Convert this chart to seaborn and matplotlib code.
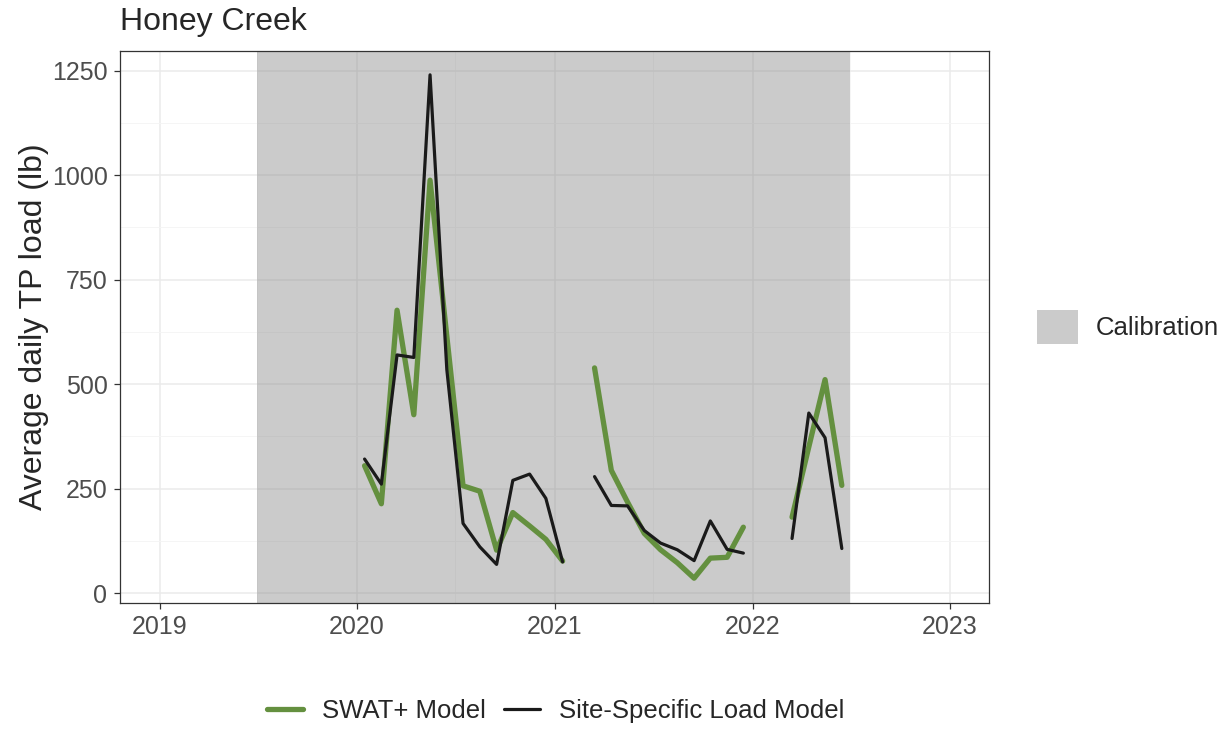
import pandas as pd
import numpy as np
import matplotlib
matplotlib.use("Agg")
import matplotlib.pyplot as plt
import matplotlib.dates as mdates
from matplotlib.lines import Line2D
from matplotlib.patches import Patch
import seaborn as sns

# monthly values (plotted mid-month), three separate runs of data
months = ["2020-01", "2020-02", "2020-03", "2020-04", "2020-05", "2020-06", "2020-07",
          "2020-08", "2020-09", "2020-10", "2020-11", "2020-12", "2021-01",
          "2021-03", "2021-04", "2021-05", "2021-06", "2021-07", "2021-08",
          "2021-09", "2021-10", "2021-11", "2021-12",
          "2022-03", "2022-04", "2022-05", "2022-06"]
segment = [1] * 13 + [2] * 10 + [3] * 4

swat = [305, 214, 677, 427, 988, 615, 257, 244, 103, 193, 161, 129, 77,
        539, 294, 218, 143, 104, 73, 36, 84, 86, 158,
        182, 350, 511, 258]
site_specific = [321, 261, 570, 564, 1240, 535, 167, 111, 69, 270, 285, 227, 75,
                 279, 210, 209, 150, 120, 104, 78, 173, 105, 96,
                 131, 431, 372, 107]

calib_start = "2019-07-01"
calib_end = "2022-07-01"

green = "#64903f"
black = "#1a1a1a"

dates = pd.to_datetime([m + "-15" for m in months])
df = pd.concat([
    pd.DataFrame({"date": dates, "load": swat, "model": "SWAT+ Model", "segment": segment}),
    pd.DataFrame({"date": dates, "load": site_specific, "model": "Site-Specific Load Model",
                  "segment": segment}),
], ignore_index=True)

sns.set_style("white")
plt.rcParams["font.family"] = ["Liberation Sans", "DejaVu Sans"]

fig = plt.figure(figsize=(12.25, 7.3), dpi=100)
ax = fig.add_axes([120 / 1225, 1 - 602.7 / 730, (989 - 120) / 1225, (602.7 - 51) / 730])

# calibration window
ax.axvspan(pd.Timestamp(calib_start), pd.Timestamp(calib_end), color="#7f7f7f",
           alpha=0.4, lw=0, zorder=1)

sns.lineplot(data=df, x="date", y="load", hue="model", size="model", units="segment",
             estimator=None, hue_order=["SWAT+ Model", "Site-Specific Load Model"],
             palette={"SWAT+ Model": green, "Site-Specific Load Model": black},
             sizes={"SWAT+ Model": 3.8, "Site-Specific Load Model": 2.3},
             legend=False, ax=ax, zorder=2)

ax.set_xlim(pd.Timestamp("2018-10-20"), pd.Timestamp("2023-03-14"))
ax.set_ylim(-22.6, 1297)
ax.set_yticks([0, 250, 500, 750, 1000, 1250])
ax.set_yticks([125, 375, 625, 875, 1125], minor=True)
ax.xaxis.set_major_locator(mdates.YearLocator())
ax.xaxis.set_major_formatter(mdates.DateFormatter("%Y"))
ax.xaxis.set_minor_locator(mdates.MonthLocator(bymonth=7))

ax.grid(which="major", color="#ebebeb", lw=1.1)
ax.grid(which="minor", color="#f4f4f4", lw=0.6)
ax.set_axisbelow(True)
for s in ax.spines.values():
    s.set_color("#333333")
    s.set_linewidth(0.9)

ax.tick_params(axis="both", which="major", length=4, width=0.9, color="#333333",
               labelsize=18, labelcolor="#4d4d4d", pad=5, bottom=True, left=True)
ax.tick_params(which="minor", length=0)

ax.set_xlabel("")
ax.set_ylabel("Average daily TP load (lb)", fontsize=23, labelpad=2)
ax.set_title("Honey Creek", loc="left", fontsize=23, pad=15)

# legends
line_handles = [Line2D([], [], color=green, lw=3.8), Line2D([], [], color=black, lw=2.3)]
fig.legend(line_handles, ["SWAT+ Model", "Site-Specific Load Model"], loc="center",
           bbox_to_anchor=(556 / 1225, 1 - 711 / 730), ncol=2, frameon=False,
           fontsize=18.5, handlelength=1.4, columnspacing=0.7, handletextpad=0.75)
fig.legend([Patch(facecolor="#7f7f7f", alpha=0.4, lw=0)], ["Calibration"],
           loc="center left", bbox_to_anchor=(1014 / 1225, 1 - 327 / 730), frameon=False,
           fontsize=18.5, handlelength=1.6, handleheight=1.6, handletextpad=0.7)

fig.savefig("out.png", dpi=100)
